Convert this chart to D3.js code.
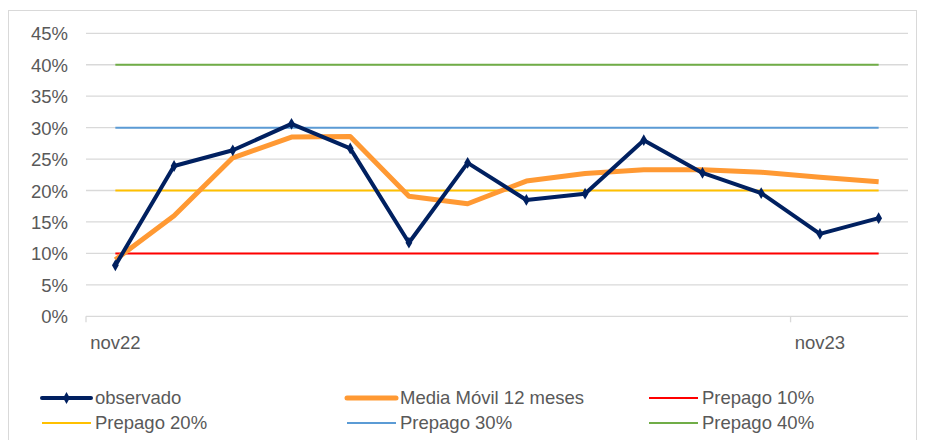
<!DOCTYPE html>
<html lang="es">
<head>
<meta charset="utf-8">
<title>observado vs media móvil</title>
<style>
  body { margin: 0; background: #fff; }
  svg { display: block; font-family: "Liberation Sans", Arial, sans-serif; }
  .axis text { fill: #595959; font-size: 18.5px; }
  .legend text { fill: #595959; font-size: 18.5px; }
</style>
</head>
<body>
<svg id="chart" width="925" height="440"></svg>
<script src="https://cdn.jsdelivr.net/npm/d3@7"></script>
<script>
// meses
var meses = ["nov22", "dic22", "ene23", "feb23", "mar23", "abr23", "may23",
             "jun23", "jul23", "ago23", "sep23", "oct23", "nov23", "dic23"];
var etiquetasX = ["nov22", "nov23"];
var ticksY = [0, 0.05, 0.10, 0.15, 0.20, 0.25, 0.30, 0.35, 0.40, 0.45];

// series
var observado = [0.081, 0.239, 0.264, 0.306, 0.267, 0.117, 0.244, 0.185, 0.195,
                 0.280, 0.228, 0.196, 0.131, 0.156];
var mediaMovil = [0.090, 0.160, 0.252, 0.285, 0.286, 0.191, 0.179, 0.215, 0.227,
                  0.233, 0.233, 0.229, 0.221, 0.214];
var prepagos = [0.10, 0.20, 0.30, 0.40];

var svg = d3.select("#chart");

// marco
svg.append("rect")
  .attr("x", 8.5).attr("y", 10.5)
  .attr("width", 908).attr("height", 460)
  .attr("fill", "none").attr("stroke", "#d9d9d9");

var x = d3.scaleBand().domain(meses).range([86, 908]);
var y = d3.scaleLinear().domain([0, 0.45]).range([316.3, 33.3]);
var cx = function(m) { return x(m) + x.bandwidth() / 2; };

// rejilla
svg.append("g").selectAll("line")
  .data(ticksY.slice(1))
  .enter().append("line")
  .attr("x1", 86).attr("x2", 908)
  .attr("y1", function(d) { return y(d); })
  .attr("y2", function(d) { return y(d); })
  .attr("stroke", "#d9d9d9").attr("stroke-width", 1.3);

// eje y
var yAxis = svg.append("g").attr("class", "axis")
  .attr("transform", "translate(68,0)")
  .call(d3.axisLeft(y).tickValues(ticksY).tickSize(0).tickPadding(0)
    .tickFormat(d3.format(".0%")));
yAxis.select(".domain").remove();
yAxis.selectAll("text").attr("dy", "0.35em");

// eje x
svg.append("line")
  .attr("x1", 86).attr("x2", 908)
  .attr("y1", y(0)).attr("y2", y(0))
  .attr("stroke", "#d9d9d9").attr("stroke-width", 1.3);
svg.append("g").selectAll("line")
  .data(etiquetasX)
  .enter().append("line")
  .attr("x1", function(d) { return x(d); })
  .attr("x2", function(d) { return x(d); })
  .attr("y1", y(0)).attr("y2", y(0) + 6)
  .attr("stroke", "#d9d9d9").attr("stroke-width", 1.3);
var xAxis = svg.append("g").attr("class", "axis")
  .attr("transform", "translate(0," + y(0) + ")")
  .call(d3.axisBottom(x).tickValues(etiquetasX).tickSize(0).tickPadding(20));
xAxis.select(".domain").remove();

// líneas de prepago
var colores = ["#ff0000", "#ffc000", "#5b9bd5", "#70ad47"];
svg.append("g").selectAll("line")
  .data(prepagos)
  .enter().append("line")
  .attr("x1", cx(meses[0])).attr("x2", cx(meses[meses.length - 1]))
  .attr("y1", function(d) { return y(d); })
  .attr("y2", function(d) { return y(d); })
  .attr("stroke", function(d, i) { return colores[i]; })
  .attr("stroke-width", 2);

var linea = d3.line()
  .x(function(d, i) { return cx(meses[i]); })
  .y(function(d) { return y(d); });

svg.append("path")
  .datum(mediaMovil)
  .attr("d", linea)
  .attr("fill", "none").attr("stroke", "#ff9933")
  .attr("stroke-width", 5).attr("stroke-linejoin", "round");

svg.append("path")
  .datum(observado)
  .attr("d", linea)
  .attr("fill", "none").attr("stroke", "#002060")
  .attr("stroke-width", 4).attr("stroke-linejoin", "round");

var rombo = d3.symbol().type(d3.symbolDiamond).size(40);
svg.append("g").selectAll("path")
  .data(observado)
  .enter().append("path")
  .attr("d", rombo)
  .attr("transform", function(d, i) { return "translate(" + cx(meses[i]) + "," + y(d) + ")"; })
  .attr("fill", "#002060");

// leyenda
var leyenda = [
  {n: "observado", c: "#002060", w: 4, m: true},
  {n: "Media Móvil 12 meses", c: "#ff9933", w: 5},
  {n: "Prepago 10%", c: colores[0], w: 2},
  {n: "Prepago 20%", c: colores[1], w: 2},
  {n: "Prepago 30%", c: colores[2], w: 2},
  {n: "Prepago 40%", c: colores[3], w: 2}
];
var colX = [42, 347, 649];
var filaY = [398, 423];

var item = svg.append("g").attr("class", "legend").selectAll("g")
  .data(leyenda)
  .enter().append("g")
  .attr("transform", function(d, i) { return "translate(" + colX[i % 3] + "," + filaY[Math.floor(i / 3)] + ")"; });
item.append("line")
  .attr("x1", 0).attr("x2", 49)
  .attr("stroke", function(d) { return d.c; })
  .attr("stroke-width", function(d) { return d.w; })
  .attr("stroke-linecap", function(d) { return d.w > 2 ? "round" : "butt"; });
item.filter(function(d) { return d.m; }).append("path")
  .attr("d", rombo)
  .attr("transform", "translate(24.5,0)")
  .attr("fill", function(d) { return d.c; });
item.append("text")
  .attr("x", 53).attr("dy", "0.35em")
  .text(function(d) { return d.n; });
</script>
</body>
</html>
